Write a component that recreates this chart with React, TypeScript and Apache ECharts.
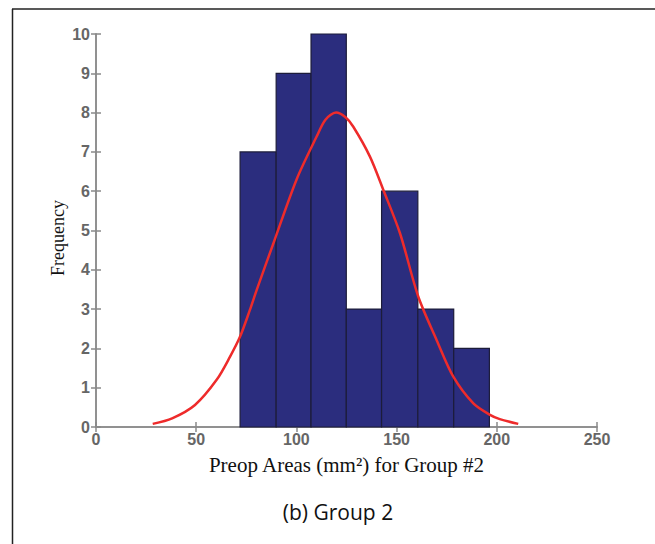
import React, { useEffect, useRef } from "react";
import * as echarts from "echarts";

// Histogram bins (edges in mm²) and counts
const binEdges = [71.9, 89.9, 107.3, 124.9, 142.5, 160.6, 178.5, 196.3];
const frequencies = [7, 9, 10, 3, 6, 3, 2];

// Fitted normal curve
const curveX = [28.3, 38, 49.4, 60.2, 66.9, 71.9, 76.8, 80.2, 88.5, 100.1, 110.1, 114.5, 119.8, 124.5, 128.4, 136.7, 143.4, 151.7, 160.8, 170, 178.3, 188.3, 196.6, 201.5, 210.7];
const curveY = [0.08, 0.22, 0.56, 1.2, 1.79, 2.3, 2.98, 3.49, 4.67, 6.3, 7.39, 7.82, 8.0, 7.88, 7.64, 6.88, 6.03, 4.93, 3.32, 2.21, 1.28, 0.6, 0.31, 0.2, 0.08];

const xTicks = { min: 0, max: 250, interval: 50 };
const yTicks = { min: 0, max: 10, interval: 1 };

const xTitle = "Preop Areas (mm²) for Group #2";
const yTitle = "Frequency";
const caption = "(b) Group 2";

export default function App() {
  const ref = useRef<HTMLDivElement>(null);
  useEffect(() => {
    if (!ref.current) return;
    const chart = echarts.init(ref.current, null, { renderer: "svg" });
    const barData = frequencies.map((f, i) => [binEdges[i], binEdges[i + 1], f]);
    const curveData = curveX.map((x, i) => [x, curveY[i]]);
    const axisLine = { show: true, lineStyle: { color: "#8a8a8a", width: 1.5 } };
    const tick = { show: true, inside: true, length: 5, lineStyle: { color: "#8a8a8a", width: 1.5 } };
    const tickLabel = {
      color: "#666",
      fontSize: 16,
      fontWeight: "bold" as const,
      fontFamily: "Liberation Sans",
    };
    chart.setOption({
      animation: false,
      backgroundColor: "#fff",
      grid: { left: 96, right: 58, top: 34, bottom: 117 },
      xAxis: [
        {
          type: "value",
          ...xTicks,
          axisLine: { ...axisLine, onZero: false },
          axisTick: tick,
          axisLabel: { ...tickLabel, margin: 4 },
          splitLine: { show: false },
          name: xTitle,
          nameLocation: "middle",
          nameGap: 27,
          nameTextStyle: { fontFamily: "Liberation Serif", fontSize: 21, color: "#111" },
        },
        {
          type: "value",
          position: "top",
          ...xTicks,
          axisLine: axisLine,
          axisTick: tick,
          axisLabel: { show: false },
          splitLine: { show: false },
        },
      ],
      yAxis: [
        {
          type: "value",
          ...yTicks,
          axisLine: { ...axisLine, onZero: false },
          axisTick: tick,
          axisLabel: { ...tickLabel, margin: 6 },
          splitLine: { show: false },
        },
        {
          type: "value",
          position: "right",
          ...yTicks,
          axisLine: axisLine,
          axisTick: tick,
          axisLabel: { show: false },
          splitLine: { show: false },
        },
      ],
      series: [
        {
          type: "custom",
          xAxisIndex: 0,
          yAxisIndex: 0,
          data: barData,
          encode: { x: [0, 1], y: 2 },
          renderItem: (params: any, api: any) => {
            const p0 = api.coord([api.value(0), api.value(2)]);
            const p1 = api.coord([api.value(1), 0]);
            return {
              type: "rect",
              shape: { x: p0[0], y: p0[1], width: p1[0] - p0[0], height: p1[1] - p0[1] },
              style: { fill: "#2b2d7e", stroke: "#1c1c3a", lineWidth: 1.2 },
            };
          },
          z: 2,
        },
        {
          type: "line",
          xAxisIndex: 0,
          yAxisIndex: 0,
          data: curveData,
          smooth: 0.3,
          showSymbol: false,
          lineStyle: { color: "#ee2b2b", width: 2.5 },
          z: 3,
        },
      ],
      graphic: [
        {
          type: "line",
          shape: { x1: 12.5, y1: 9, x2: 12.5, y2: 544 },
          style: { stroke: "#222", lineWidth: 1.5 },
        },
        {
          type: "line",
          shape: { x1: 12, y1: 9, x2: 655, y2: 9 },
          style: { stroke: "#222", lineWidth: 1.5 },
        },
        {
          type: "text",
          x: 58,
          y: 238,
          rotation: Math.PI / 2,
          style: {
            text: yTitle,
            fontFamily: "Liberation Serif",
            fontSize: 18,
            fill: "#111",
            align: "center",
            verticalAlign: "middle",
          },
        },
        {
          type: "text",
          x: 338,
          y: 512,
          style: {
            text: caption,
            fontFamily: "Open Sans",
            fontSize: 21,
            fill: "#111",
            align: "center",
            verticalAlign: "middle",
          },
        },
      ],
    });
    return () => chart.dispose();
  }, []);
  return (
    <div
      ref={ref}
      style={{ position: "fixed", left: 0, top: 0, width: 655, height: 544 }}
    />
  );
}
